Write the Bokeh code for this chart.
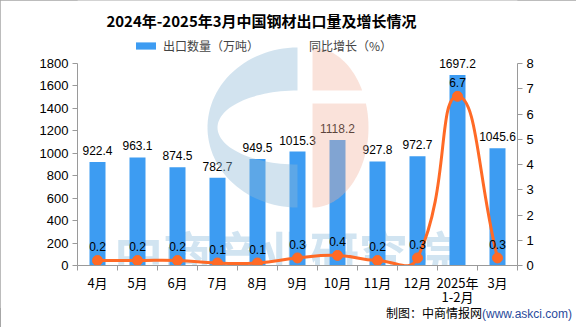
import numpy as np
from bokeh.plotting import figure
from bokeh.layouts import column
from bokeh.models import (Range1d, LinearAxis, FixedTicker, Legend, LegendItem,
                          Label, ColumnDataSource, Div)
from bokeh.core.properties import value
from bokeh.embed import file_html
from bokeh.resources import INLINE

# ---------------- data ----------------
months = ["4月", "5月", "6月", "7月", "8月", "9月", "10月", "11月", "12月", "2025年\n1-2月", "3月"]
export_vol = [922.4, 963.1, 874.5, 782.7, 949.5, 1015.3, 1118.2, 927.8, 972.7, 1697.2, 1045.6]
growth = [0.2, 0.2, 0.2, 0.1, 0.1, 0.3, 0.4, 0.2, 0.3, 6.7, 0.3]
left_ticks = [0, 200, 400, 600, 800, 1000, 1200, 1400, 1600, 1800]
right_ticks = [0, 1, 2, 3, 4, 5, 6, 7, 8]
title_text = "2024年-2025年3月中国钢材出口量及增长情况"
legend_labels = ["出口数量（万吨）", "同比增长（%）"]
source_text = "制图：中商情报网"
source_url = "(www.askci.com)"
watermark = "中商产业研究院"

BAR = "#3d9cf2"
LINE = "#ff6a26"
AX = "#9a9a9a"
CJK = "Noto Sans CJK SC"
NUM = "Liberation Sans"

n = len(months)
idx = list(range(n))

# frame spans canvas rows 0..265; axis values 0..1800 occupy rows 63..265
FRAME_H = 265.0
AX_H = 202.0
LMAX = 1800.0
RMAX = 8.0

p = figure(width=576, height=308, output_backend="svg", toolbar_location=None,
           x_range=Range1d(-0.5, n - 0.5), y_range=Range1d(0, LMAX * FRAME_H / AX_H),
           min_border_left=77, min_border_right=59, min_border_top=0, min_border_bottom=0)
p.extra_y_ranges = {"right": Range1d(0, RMAX * FRAME_H / AX_H)}
p.xgrid.visible = False
p.ygrid.visible = False
p.outline_line_color = None
p.background_fill_color = "white"
p.border_fill_color = "white"


def to_data(px, py):
    return (np.asarray(px, dtype=float) - 77) / 40.0 - 0.5, (265 - np.asarray(py, dtype=float)) * LMAX / AX_H


# ---- watermark text (behind bars) ----
wx, wy = to_data([285], [251])
p.text(x=wx, y=wy, text=[watermark], text_font=value(CJK), text_font_style="bold",
       text_font_size="49px", text_color="#c9dfee", text_alpha=0.85,
       text_align="center", text_baseline="middle")

# ---- bars ----
src = ColumnDataSource(dict(x=idx, top=export_vol, lab=[f"{v:.1f}" for v in export_vol],
                            g=growth, glab=[f"{v:.1f}" for v in growth]))
bars = p.vbar(x="x", top="top", width=0.4, source=src, fill_color=BAR, line_color=None)
p.text(x="x", y="top", text="lab", source=src, text_font=value(NUM), text_font_size="12px",
       text_color="black", text_align="center", text_baseline="bottom", y_offset=-7)

# ---- smooth growth line (echarts-like smoothing in pixel space) ----
kx = 40.0
ky = AX_H / RMAX
X = np.array(idx, dtype=float) * kx
Y = np.array(growth, dtype=float) * ky
sm = 0.5
cin = np.zeros((n, 2))
cout = np.zeros((n, 2))
for i in range(n):
    pv = max(i - 1, 0)
    nx = min(i + 1, n - 1)
    vx, vy = X[nx] - X[pv], Y[nx] - Y[pv]
    d0 = np.hypot(X[i] - X[pv], Y[i] - Y[pv])
    d1 = np.hypot(X[nx] - X[i], Y[nx] - Y[i])
    r = d1 / (d0 + d1) if (d0 + d1) > 0 else 0.5
    cin[i] = (X[i] - vx * sm * (1 - r), Y[i] - vy * sm * (1 - r))
    cout[i] = (X[i] + vx * sm * r, Y[i] + vy * sm * r)
bz = ColumnDataSource(dict(
    x0=X[:-1] / kx, y0=Y[:-1] / ky, x1=X[1:] / kx, y1=Y[1:] / ky,
    cx0=cout[:-1, 0] / kx, cy0=cout[:-1, 1] / ky, cx1=cin[1:, 0] / kx, cy1=cin[1:, 1] / ky))
p.bezier(x0="x0", y0="y0", x1="x1", y1="y1", cx0="cx0", cy0="cy0", cx1="cx1", cy1="cy1",
         source=bz, line_color=LINE, line_width=3, y_range_name="right")
p.scatter(x="x", y="g", source=src, size=10, fill_color=LINE, line_color=LINE, y_range_name="right")
p.text(x="x", y="g", text="glab", source=src, text_font=value(NUM), text_font_size="12px",
       text_color="black", text_align="center", text_baseline="bottom", y_offset=-9,
       y_range_name="right")

# ---- logo watermark (overlay) ----
t_out = np.linspace(np.pi / 2, 3 * np.pi / 2, 60)
bx = np.concatenate([297 + 90 * np.cos(t_out), 297 + 80 * np.cos(t_out[::-1])])
by = np.concatenate([127 - 80 * np.sin(t_out), 127 - 37 * np.sin(t_out[::-1])])
lx, ly = to_data(bx, by)
p.patch(lx, ly, fill_color="#8fbad6", fill_alpha=0.4, line_color=None)

t_top = np.linspace(np.arcsin((127 - 90) / 80), np.pi / 2, 30)
tx = np.concatenate([[312], 312 + 56 * np.cos(t_top)])
ty = np.concatenate([[90], 127 - 80 * np.sin(t_top)])
t_bot = np.linspace(-np.pi / 2, np.arcsin((127 - 103) / 80), 40)
ux = np.concatenate([[312], 312 + 56 * np.cos(t_bot), [312]])
uy = np.concatenate([[207], 127 - 80 * np.sin(t_bot), [103]])
for ax_, ay_ in ((tx, ty), (ux, uy)):
    xx, yy = to_data(ax_, ay_)
    p.patch(xx, yy, fill_color="#f2b49e", fill_alpha=0.38, line_color=None)

# ---- title (inside the tall frame) ----
tx_, ty_ = to_data([261], [20])
p.add_layout(Label(x=float(tx_[0]), y=float(ty_[0]), text=title_text, text_font=CJK,
                   text_font_size="15px", text_font_style="bold", text_color="black",
                   text_align="center", text_baseline="middle"))

# ---- legend ----
dl = p.line(x=[], y=[], line_color=LINE, line_width=3)
ds = p.scatter(x=[], y=[], size=9, fill_color=LINE, line_color=LINE)
legend = Legend(items=[LegendItem(label=legend_labels[0], renderers=[bars]),
                       LegendItem(label=legend_labels[1], renderers=[dl, ds])],
                orientation="horizontal", location=(56, 211), padding=0, margin=0, spacing=20,
                glyph_width=25, glyph_height=9, label_standoff=5, border_line_color=None,
                background_fill_alpha=0, label_text_font=CJK, label_text_font_size="12px",
                label_height=12)
p.add_layout(legend, "center")

# ---- axes ----
p.yaxis[0].ticker = FixedTicker(ticks=left_ticks)
p.yaxis[0].bounds = (0, LMAX)
ra = LinearAxis(y_range_name="right", ticker=FixedTicker(ticks=right_ticks), bounds=(0, RMAX))
p.add_layout(ra, "right")
for ax in (p.yaxis[0], ra):
    ax.axis_line_color = AX
    ax.major_tick_line_color = AX
    ax.major_tick_out = 5
    ax.major_tick_in = 0
    ax.minor_tick_out = 0
    ax.minor_tick_in = 0
    ax.major_label_text_font = NUM
    ax.major_label_text_font_size = "13px"
    ax.major_label_text_color = "black"
    ax.major_label_standoff = 4
xa = p.xaxis[0]
xa.ticker = FixedTicker(ticks=idx, minor_ticks=[i - 0.5 for i in range(n + 1)])
xa.major_label_overrides = {i: m for i, m in enumerate(months)}
xa.axis_line_color = AX
xa.major_tick_out = 0
xa.major_tick_in = 0
xa.minor_tick_out = 5
xa.minor_tick_in = 0
xa.minor_tick_line_color = AX
xa.major_label_text_font = CJK
xa.major_label_text_font_size = "13px"
xa.major_label_text_line_height = 0.75
xa.major_label_text_color = "black"
xa.major_label_standoff = 2

# ---- footer ----
footer = Div(
    text=f'{source_text}<span style="color:#2a4a9c;font-family:\'{NUM}\'">{source_url}</span>',
    width=567, height=19,
    styles={"font-family": f"'{CJK}'", "font-size": "12px", "line-height": "0px",
            "text-align": "right", "color": "black", "white-space": "nowrap",
            "overflow": "visible"})

layout = column(p, footer, spacing=0)
layout.styles = {"outline": "1px solid #a6a6a6", "outline-offset": "-1px"}
open("out.html", "w").write(file_html(layout, INLINE))
